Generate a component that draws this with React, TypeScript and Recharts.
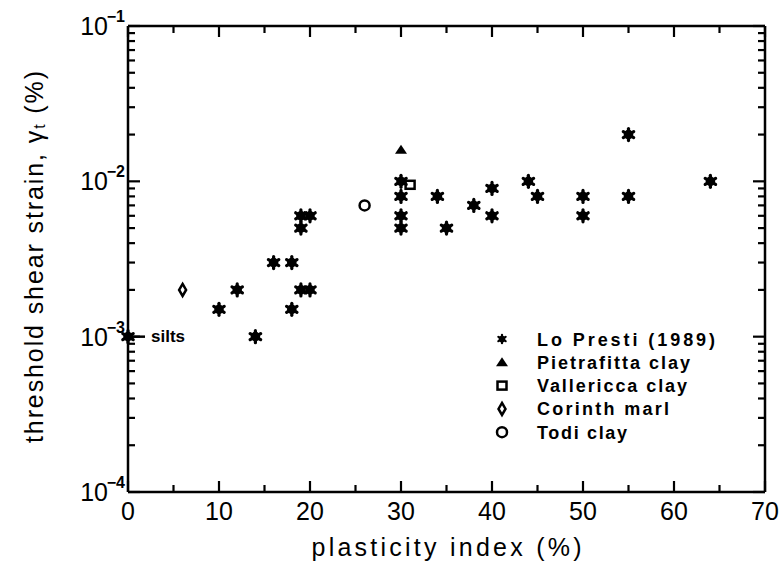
import React from 'react';
import { ScatterChart, Scatter, XAxis, YAxis } from 'recharts';

// plasticity index (%) and threshold shear strain (%)
const loPrestiPI = [0, 10, 12, 14, 16, 18, 18, 19, 19, 19, 20, 20, 30, 30, 30, 30, 34, 35, 38, 40, 40, 44, 45, 50, 50, 55, 55, 64];
const loPrestiStrain = [0.001, 0.0015, 0.002, 0.001, 0.003, 0.003, 0.0015, 0.006, 0.005, 0.002, 0.006, 0.002, 0.01, 0.008, 0.006, 0.005, 0.008, 0.005, 0.007, 0.009, 0.006, 0.01, 0.008, 0.008, 0.006, 0.02, 0.008, 0.01];
const loPrestiNotes = ['silts'];

const pietrafittaPI = [30];
const pietrafittaStrain = [0.016];
const vallericcaPI = [31];
const vallericcaStrain = [0.0095];
const corinthPI = [6];
const corinthStrain = [0.002];
const todiPI = [26];
const todiStrain = [0.007];

const xTicks = [0, 5, 10, 15, 20, 25, 30, 35, 40, 45, 50, 55, 60, 65, 70];
const decades = [1e-4, 1e-3, 1e-2];
const yTicks = [...decades.flatMap((d) => [1, 2, 3, 4, 5, 6, 7, 8, 9].map((m) => m * d)), 1e-1];

const FONT = '"Liberation Sans", Arial, sans-serif';

const toPoints = (xs: number[], ys: number[], notes: string[] = []) =>
  xs.map((pi, i) => ({ pi, strain: ys[i], note: notes[i] }));

const isDecade = (v: number) => Math.abs(Math.log10(v) - Math.round(Math.log10(v))) < 1e-6;

type MarkerKind = 'star' | 'triangle' | 'square' | 'diamond' | 'circle';

const Marker = ({ kind, cx, cy, s = 1 }: { kind: MarkerKind; cx: number; cy: number; s?: number }) => {
  switch (kind) {
    case 'star':
      return (
        <g stroke="#000" strokeWidth={3.2 * s} strokeLinecap="round">
          <line x1={cx} y1={cy - 6 * s} x2={cx} y2={cy + 6 * s} />
          <line x1={cx - 5.2 * s} y1={cy - 3 * s} x2={cx + 5.2 * s} y2={cy + 3 * s} />
          <line x1={cx - 5.2 * s} y1={cy + 3 * s} x2={cx + 5.2 * s} y2={cy - 3 * s} />
          <circle cx={cx} cy={cy} r={3.2 * s} fill="#000" />
        </g>
      );
    case 'triangle':
      return <polygon points={`${cx},${cy - 5} ${cx - 6},${cy + 4} ${cx + 6},${cy + 4}`} fill="#000" />;
    case 'square':
      return <rect x={cx - 4.5} y={cy - 4} width={9} height={8} fill="none" stroke="#000" strokeWidth={2.5} />;
    case 'diamond':
      return <polygon points={`${cx},${cy - 6} ${cx + 3.5},${cy} ${cx},${cy + 6} ${cx - 3.5},${cy}`} fill="none" stroke="#000" strokeWidth={2.5} />;
    default:
      return <circle cx={cx} cy={cy} r={5} fill="none" stroke="#000" strokeWidth={2.5} />;
  }
};

// Lo Presti on the bottom/left axes, the single-site series on the top/right
// pair (same domains) so that all four frame sides are drawn
const series: { name: string; kind: MarkerKind; data: any[]; xId: string; yId: string }[] = [
  { name: 'Lo Presti (1989)', kind: 'star', data: toPoints(loPrestiPI, loPrestiStrain, loPrestiNotes), xId: 'b', yId: 'l' },
  { name: 'Pietrafitta clay', kind: 'triangle', data: toPoints(pietrafittaPI, pietrafittaStrain), xId: 't', yId: 'r' },
  { name: 'Vallericca clay', kind: 'square', data: toPoints(vallericcaPI, vallericcaStrain), xId: 't', yId: 'r' },
  { name: 'Corinth marl', kind: 'diamond', data: toPoints(corinthPI, corinthStrain), xId: 't', yId: 'r' },
  { name: 'Todi clay', kind: 'circle', data: toPoints(todiPI, todiStrain), xId: 't', yId: 'r' },
];

const makeShape = (kind: MarkerKind) => (props: any) => {
  const { cx, cy, payload } = props;
  return (
    <g>
      <Marker kind={kind} cx={cx} cy={cy} />
      {payload?.note && (
        <g>
          <line x1={cx} y1={cy} x2={cx + 17} y2={cy} stroke="#000" strokeWidth={2.5} />
          <text x={cx + 23} y={cy + 5} fontFamily={FONT} fontWeight="bold" fontSize={17}>{payload.note}</text>
        </g>
      )}
    </g>
  );
};

const BottomTick = (props: any) => {
  const { x, y, payload } = props;
  const major = payload.value % 10 === 0;
  return (
    <g>
      <line x1={x} y1={y} x2={x} y2={y - (major ? 11 : 7)} stroke="#000" strokeWidth={2.2} />
      {major && (
        <text x={x} y={y + 28} textAnchor="middle" fontFamily={FONT} fontSize={25} fill="#000">{payload.value}</text>
      )}
    </g>
  );
};

const TopTick = (props: any) => {
  const { x, y, payload } = props;
  const major = payload.value % 10 === 0;
  return <g><line x1={x} y1={y} x2={x} y2={y + (major ? 11 : 7)} stroke="#000" strokeWidth={2.2} /></g>;
};

const LeftTick = (props: any) => {
  const { x, y, payload } = props;
  const major = isDecade(payload.value);
  const exp = Math.round(Math.log10(payload.value));
  return (
    <g>
      <line x1={x} y1={y} x2={x + (major ? 12 : 7)} y2={y} stroke="#000" strokeWidth={2.2} />
      {major && (
        <g fontFamily={FONT} fill="#000">
          <text x={x - 20} y={y + 9} textAnchor="end" fontSize={25}>10</text>
          <text x={x - 3} y={y - 4} textAnchor="end" fontSize={16} fontWeight="bold">{`\u2212${-exp}`}</text>
        </g>
      )}
    </g>
  );
};

const RightTick = (props: any) => {
  const { x, y, payload } = props;
  const major = isDecade(payload.value);
  return <g><line x1={x} y1={y} x2={x - (major ? 12 : 7)} y2={y} stroke="#000" strokeWidth={2.2} /></g>;
};

const XTitle = (p: any) => {
  const vb = p.viewBox;
  return (
    <text x={vb.x + vb.width / 2} y={vb.y + 64} textAnchor="middle" fontFamily={FONT} fontSize={25}
      textLength={270} lengthAdjust="spacing">
      plasticity index (%)
    </text>
  );
};

const YTitle = (p: any) => {
  const vb = p.viewBox;
  const cx = vb.x + 34;
  const cy = vb.y + vb.height / 2 - 2;
  return (
    <text x={cx} y={cy} transform={`rotate(-90 ${cx} ${cy})`} textAnchor="middle" dominantBaseline="central"
      fontFamily={FONT} fontSize={25} textLength={372} lengthAdjust="spacing">
      threshold shear strain, {'\u03B3'}
      <tspan fontSize={16} dy={5}>t</tspan>
      <tspan dy={-5}> (%)</tspan>
    </text>
  );
};

// legend drawn inside the chart's svg, anchored to the top axis box
const legendWidths = [178, 153, 150, 132, 90];
const LegendSvg = (p: any) => {
  const vb = p.viewBox;
  const x0 = vb.x + 374;
  const y0 = vb.y + vb.height + 313;
  return (
    <g>
      {series.map((s, i) => (
        <g key={s.name}>
          <Marker kind={s.kind} cx={x0} cy={y0 + i * 23.3} s={0.7} />
          <text x={x0 + 35} y={y0 + i * 23.3 + 6.5} fontFamily={FONT} fontWeight="bold" fontSize={18}
            textLength={legendWidths[i]} lengthAdjust="spacing">
            {s.name}
          </text>
        </g>
      ))}
    </g>
  );
};

export default function App() {
  return (
    <div style={{ position: 'absolute', left: 0, top: 0, width: 782, height: 572, overflow: 'hidden', background: '#fff' }}>
      <div style={{ transform: 'scale(1)', transformOrigin: '0 0' }}>
        <ScatterChart width={782} height={572} margin={{ top: 0, right: 0, bottom: 0, left: 0 }}>
          <XAxis xAxisId="b" dataKey="pi" type="number" domain={[0, 70]} ticks={xTicks} interval={0} height={80}
            tickSize={0} tickMargin={0} tickLine={false} tick={BottomTick}
            axisLine={{ stroke: '#000', strokeWidth: 2.5 }} label={{ content: XTitle }} />
          <XAxis xAxisId="t" dataKey="pi" orientation="top" type="number" domain={[0, 70]} ticks={xTicks} interval={0} height={26}
            tickSize={0} tickMargin={0} tickLine={false} tick={TopTick}
            axisLine={{ stroke: '#000', strokeWidth: 2.5 }} label={{ content: LegendSvg }} />
          <YAxis yAxisId="l" dataKey="strain" type="number" scale="log" domain={[1e-4, 1e-1]} ticks={yTicks} interval={0} width={128}
            tickSize={0} tickMargin={0} tickLine={false} tick={LeftTick}
            axisLine={{ stroke: '#000', strokeWidth: 2.5 }} label={{ content: YTitle }} />
          <YAxis yAxisId="r" dataKey="strain" orientation="right" type="number" scale="log" domain={[1e-4, 1e-1]} ticks={yTicks} interval={0} width={17}
            tickSize={0} tickMargin={0} tickLine={false} tick={RightTick}
            axisLine={{ stroke: '#000', strokeWidth: 2.5 }} />
          {series.map((s) => (
            <Scatter key={s.name} name={s.name} data={s.data} xAxisId={s.xId} yAxisId={s.yId} fill="#000"
              shape={makeShape(s.kind)} isAnimationActive={false} />
          ))}
        </ScatterChart>
      </div>
    </div>
  );
}
